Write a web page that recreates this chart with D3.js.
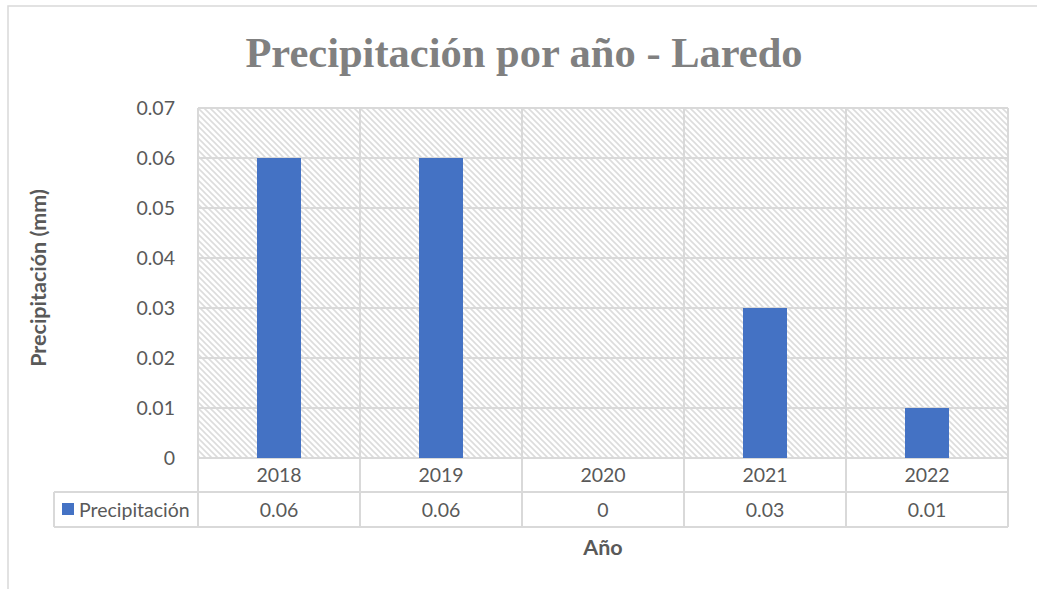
<!DOCTYPE html>
<html><head><meta charset="utf-8">
<script src="https://cdn.jsdelivr.net/npm/d3@7"></script>
<style>body{margin:0;background:#fff}svg{display:block}</style>
</head><body>
<script>
const categories = ["2018", "2019", "2020", "2021", "2022"];
const values = [0.06, 0.06, 0, 0.03, 0.01];
const yTicks = [0, 0.01, 0.02, 0.03, 0.04, 0.05, 0.06, 0.07];
const valueLabels = ["0.06", "0.06", "0", "0.03", "0.01"];
const seriesName = "Precipitación";
const title = "Precipitación por año - Laredo";
const yTitle = "Precipitación (mm)";
const xTitle = "Año";

const W = 1037, H = 589;
const pLeft = 198, pRight = 1008, pTop = 108, pBottom = 458;
const row1 = 492, row2 = 527, legendLeft = 54;
const grid = "#d9d9d9", txt = "#595959", font = "Lato, 'Liberation Sans', sans-serif";
const fs = "19.5px", titleFs = "21.5px";

const svg = d3.select("body").append("svg").attr("width", W).attr("height", H);
const defs = svg.append("defs");
const pat = defs.append("pattern").attr("id", "hatch").attr("patternUnits", "userSpaceOnUse")
  .attr("width", 6).attr("height", 6);
pat.append("rect").attr("width", 6).attr("height", 6).attr("fill", "#fff");
pat.append("path").attr("d", "M-1,-1 L7,7 M-4,2 L1,7 M2,-4 L7,1").attr("stroke", "#dcdcdc").attr("stroke-width", 1.6);

svg.append("rect").attr("x", 8).attr("y", 6).attr("width", 1040).attr("height", 600)
  .attr("fill", "#fff").attr("stroke", grid).attr("stroke-width", 1.5);

const x = d3.scaleBand().domain(categories).range([pLeft, pRight]).paddingInner(0).paddingOuter(0);
const y = d3.scaleLinear().domain([0, 0.07]).range([pBottom, pTop]);

svg.append("rect").attr("x", pLeft).attr("y", pTop).attr("width", pRight - pLeft).attr("height", pBottom - pTop)
  .attr("fill", "url(#hatch)");

svg.append("g").selectAll("line").data(yTicks).join("line")
  .attr("x1", pLeft).attr("x2", pRight).attr("y1", d => y(d)).attr("y2", d => y(d))
  .attr("stroke", grid).attr("stroke-width", 2);

const bounds = categories.map(c => x(c)).concat([pRight]);
svg.append("g").selectAll("line").data(bounds).join("line")
  .attr("x1", d => d).attr("x2", d => d).attr("y1", pTop).attr("y2", row2)
  .attr("stroke", grid).attr("stroke-width", 2);

svg.append("line").attr("x1", legendLeft).attr("x2", pRight).attr("y1", row1).attr("y2", row1).attr("stroke", grid).attr("stroke-width", 2);
svg.append("line").attr("x1", legendLeft).attr("x2", pRight).attr("y1", row2).attr("y2", row2).attr("stroke", grid).attr("stroke-width", 2);
svg.append("line").attr("x1", legendLeft).attr("x2", legendLeft).attr("y1", row1).attr("y2", row2).attr("stroke", grid).attr("stroke-width", 2);

const bw = 44;
svg.append("g").selectAll("rect").data(values).join("rect")
  .attr("x", (d, i) => x(categories[i]) + x.bandwidth() / 2 - bw / 2)
  .attr("width", bw)
  .attr("y", d => y(d)).attr("height", d => y(0) - y(d))
  .attr("fill", "#4472c4");

const yAxis = d3.axisLeft(y).tickValues(yTicks).tickFormat(d => d === 0 ? "0" : d3.format(".2f")(d)).tickSize(0).tickPadding(23);
const ga = svg.append("g").attr("transform", `translate(${pLeft},0)`).call(yAxis);
ga.select(".domain").remove();
ga.selectAll("text").attr("fill", txt).style("font-family", font).style("font-size", fs);

svg.append("g").selectAll("text").data(categories).join("text")
  .attr("x", d => x(d) + x.bandwidth() / 2).attr("y", (pBottom + row1) / 2 + 7)
  .attr("text-anchor", "middle").attr("fill", txt).style("font-family", font).style("font-size", fs).text(d => d);
svg.append("g").selectAll("text").data(valueLabels).join("text")
  .attr("x", (d, i) => x(categories[i]) + x.bandwidth() / 2).attr("y", (row1 + row2) / 2 + 7)
  .attr("text-anchor", "middle").attr("fill", txt).style("font-family", font).style("font-size", fs).text(d => d);
svg.append("rect").attr("x", 62).attr("y", 503).attr("width", 12).attr("height", 12).attr("fill", "#4472c4");
svg.append("text").attr("x", 79).attr("y", (row1 + row2) / 2 + 7).attr("fill", txt)
  .style("font-family", font).style("font-size", fs).text(seriesName);

svg.append("text").attr("x", 524).attr("y", 67).attr("text-anchor", "middle")
  .attr("fill", "#808080").style("font-family", "'Liberation Serif', 'Times New Roman', serif")
  .style("font-weight", "bold").style("font-size", "42.5px").text(title);

svg.append("text").attr("transform", `translate(46,278) rotate(-90)`)
  .attr("text-anchor", "middle").attr("fill", txt).style("font-family", font)
  .style("font-weight", "bold").style("font-size", titleFs).text(yTitle);
svg.append("text").attr("x", 603).attr("y", 555).attr("text-anchor", "middle").attr("fill", txt)
  .style("font-family", font).style("font-weight", "bold").style("font-size", titleFs).text(xTitle);
</script>
</body></html>
